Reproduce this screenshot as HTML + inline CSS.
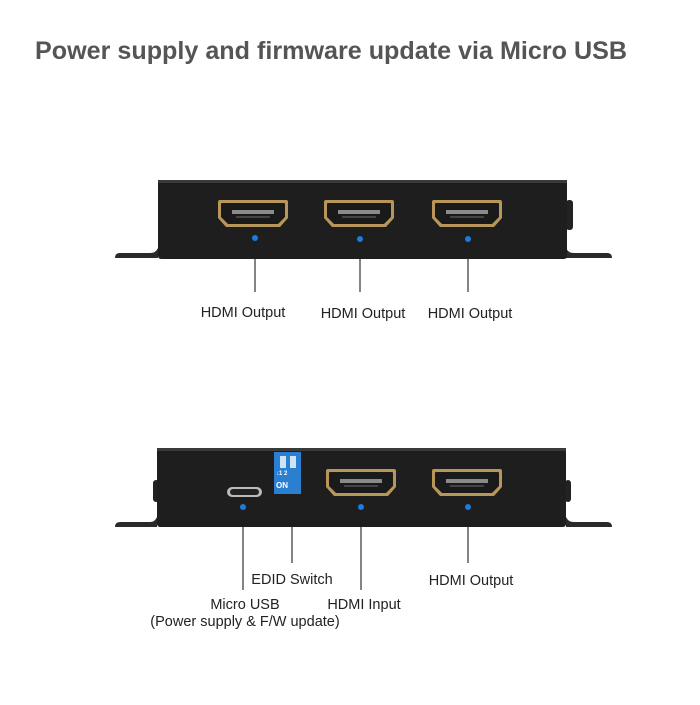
<!DOCTYPE html>
<html><head><meta charset="utf-8"><style>
body{margin:0;width:700px;height:700px;background:#fff;overflow:hidden;font-family:"Liberation Sans",sans-serif}
</style></head><body>
<svg width="700" height="700" viewBox="0 0 700 700" xmlns="http://www.w3.org/2000/svg">
<defs>
<g id="hdmi">
<path d="M0,2 Q0,0 2,0 H68 Q70,0 70,2 V18 L62,27 H8 L0,18 Z" fill="#b8965a"/>
<path d="M3,4 Q3,3 4,3 H66 Q67,3 67,4 V17 L60,24 H10 L3,17 Z" fill="#1a1a1a"/>
<rect x="14" y="10" width="42" height="4" fill="#8a8a8a"/>
<rect x="18" y="16" width="34" height="2" fill="#444"/>
</g>
</defs>
<text x="35" y="59" font-size="25" font-weight="bold" fill="#555" textLength="592" lengthAdjust="spacingAndGlyphs">Power supply and firmware update via Micro USB</text>

<!-- top device -->
<path d="M115,258 Q115,253 120,253 H150 Q156,253 158,248 V258 Z" fill="#2a2a2a"/>
<path d="M612,258 Q612,253 607,253 H574 Q568,253 566,248 V258 Z" fill="#2a2a2a"/>
<rect x="566" y="200" width="7" height="30" rx="3" fill="#222"/>
<rect x="158" y="180" width="409" height="79" rx="3" fill="#1e1e1e"/>
<rect x="158" y="180" width="409" height="3" fill="#3a3a3a"/>
<use href="#hdmi" x="218" y="200"/>
<use href="#hdmi" x="324" y="200"/>
<use href="#hdmi" x="432" y="200"/>
<circle cx="255" cy="238" r="3" fill="#1a7be0"/>
<circle cx="360" cy="239" r="3" fill="#1a7be0"/>
<circle cx="468" cy="239" r="3" fill="#1a7be0"/>
<g stroke="#333" stroke-width="1.2">
<line x1="255" y1="259" x2="255" y2="292"/>
<line x1="360" y1="259" x2="360" y2="292"/>
<line x1="468" y1="259" x2="468" y2="292"/>
</g>
<g font-size="14.5" fill="#222" text-anchor="middle">
<text x="243" y="317">HDMI Output</text>
<text x="363" y="318">HDMI Output</text>
<text x="470" y="318">HDMI Output</text>
</g>

<!-- bottom device -->
<path d="M115,527 Q115,522 120,522 H150 Q155,522 157,517 V527 Z" fill="#2a2a2a"/>
<path d="M612,527 Q612,522 607,522 H574 Q568,522 566,517 V527 Z" fill="#2a2a2a"/>
<rect x="153" y="480" width="6" height="22" rx="3" fill="#222"/>
<rect x="565" y="480" width="6" height="22" rx="3" fill="#222"/>
<rect x="157" y="448" width="409" height="79" rx="3" fill="#1e1e1e"/>
<rect x="157" y="448" width="409" height="3" fill="#3a3a3a"/>
<rect x="227" y="487" width="35" height="10" rx="5" fill="#bbb"/>
<rect x="230" y="489" width="29" height="6" rx="3" fill="#222"/>
<rect x="274" y="452" width="27" height="42" fill="#2a7fd0"/>
<rect x="280" y="456" width="6" height="12" fill="#cfe3f6"/>
<rect x="290" y="456" width="6" height="12" fill="#cfe3f6"/>
<text x="276" y="475" font-size="6" fill="#fff" font-weight="bold">↓1 2</text>
<text x="276" y="488" font-size="8" fill="#fff" font-weight="bold">ON</text>
<use href="#hdmi" x="326" y="469"/>
<use href="#hdmi" x="432" y="469"/>
<circle cx="243" cy="507" r="3" fill="#1a7be0"/>
<circle cx="361" cy="507" r="3" fill="#1a7be0"/>
<circle cx="468" cy="507" r="3" fill="#1a7be0"/>
<g stroke="#333" stroke-width="1.2">
<line x1="243" y1="527" x2="243" y2="590"/>
<line x1="292" y1="527" x2="292" y2="563"/>
<line x1="361" y1="527" x2="361" y2="590"/>
<line x1="468" y1="527" x2="468" y2="563"/>
</g>
<g font-size="14.5" fill="#222" text-anchor="middle">
<text x="292" y="584">EDID Switch</text>
<text x="471" y="585">HDMI Output</text>
<text x="245" y="609">Micro USB</text>
<text x="364" y="609">HDMI Input</text>
<text x="245" y="626">(Power supply &amp; F/W update)</text>
</g>
</svg>
</body></html>
